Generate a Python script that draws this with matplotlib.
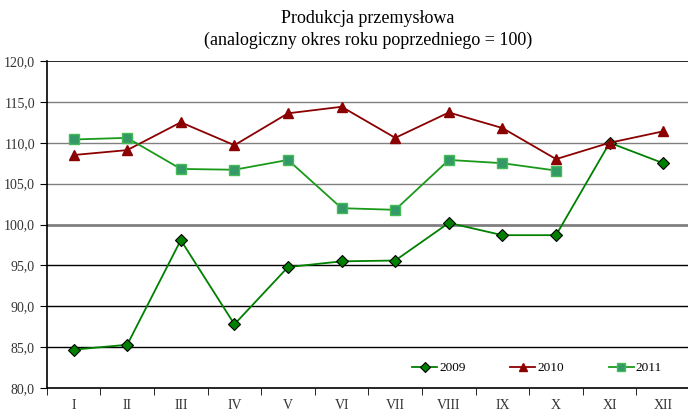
import matplotlib
matplotlib.use("Agg")
import matplotlib.pyplot as plt
import numpy as np
from matplotlib.ticker import FuncFormatter

plt.rcParams['font.family'] = ['Liberation Serif', 'DejaVu Serif']

months = ["I", "II", "III", "IV", "V", "VI", "VII", "VIII", "IX", "X", "XI", "XII"]
y2009 = [84.7, 85.3, 98.1, 87.8, 94.8, 95.5, 95.6, 100.2, 98.7, 98.7, 110.0, 107.5]
y2010 = [108.5, 109.1, 112.5, 109.7, 113.6, 114.4, 110.6, 113.7, 111.8, 108.0, 110.0, 111.4]
y2011 = [110.4, 110.6, 106.8, 106.7, 107.9, 102.0, 101.8, 107.9, 107.5, 106.6]

fig = plt.figure(figsize=(6.88, 4.12), dpi=100)
ax = fig.add_axes([0.068, 0.058, 0.935, 0.794])

# gridlines: grey above 100, black below
for v in [105, 110, 115]:
    ax.axhline(v, color='#808080', lw=1.0, zorder=1)
ax.axhline(100, color='#808080', lw=2.0, zorder=1)
for v in [85, 90, 95]:
    ax.axhline(v, color='black', lw=1.0, zorder=1)
ax.axhline(120, color='black', lw=1.2, zorder=1)

X = np.arange(len(months))
ax.plot(X, y2009, color='#008000', lw=1.3, marker='D', ms=6,
        mfc='#008000', mec='black', mew=0.8, label='2009', zorder=3)
ax.plot(X, y2010, color='#8B0000', lw=1.3, marker='^', ms=7,
        mfc='#8B0000', mec='#8B0000', label='2010', zorder=3)
ax.plot(X[:len(y2011)], y2011, color='#1a9a1a', lw=1.3, marker='s', ms=7,
        mfc='#339966', mec='#44bb55', mew=1.0, label='2011', zorder=3)

ax.set_xlim(-0.5, 11.5)
ax.set_ylim(80, 120)
ax.set_yticks(np.arange(80, 121, 5))
ax.yaxis.set_major_formatter(FuncFormatter(lambda v, p: f"{v:.1f}".replace('.', ',')))
ax.set_xticks(X)
ax.set_xticklabels(months)
ax.set_xticks(np.arange(-0.5, 12, 1), minor=True)
ax.tick_params(axis='x', which='major', length=0, pad=8, labelsize=10, colors='#333333')
ax.tick_params(axis='x', which='minor', length=5, direction='out')
ax.tick_params(axis='y', length=5, direction='out', labelsize=10, labelcolor='#333333')

for s in ['top', 'right']:
    ax.spines[s].set_visible(False)
ax.spines['left'].set_linewidth(1.2)
ax.spines['bottom'].set_linewidth(1.2)

ax.legend(loc='center right', bbox_to_anchor=(0.975, 0.061), ncol=3, frameon=False,
          fontsize=9.5, handlelength=1.9, handletextpad=0.15, columnspacing=3.4,
          markerscale=0.8)

fig.text(0.535, 0.955, "Produkcja przemysłowa", ha='center', va='center', fontsize=13)
fig.text(0.535, 0.903, "(analogiczny okres roku poprzedniego = 100)", ha='center', va='center', fontsize=13)

fig.savefig("out.png", dpi=100)
